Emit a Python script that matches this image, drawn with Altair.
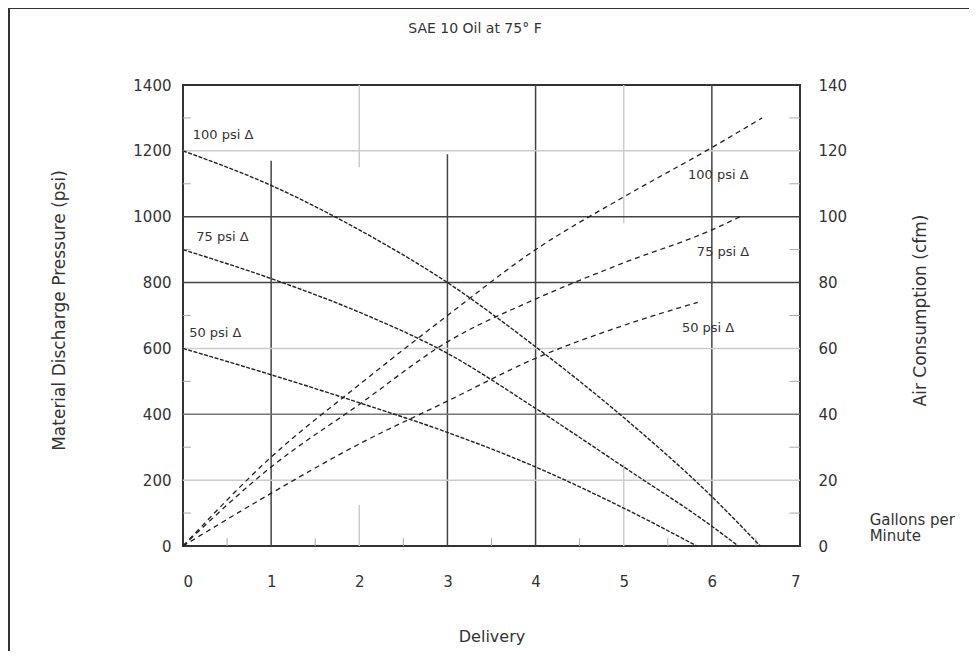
import altair as alt
import pandas as pd

FONT = "DejaVu Sans"

# ---- data -------------------------------------------------------------
# Material discharge pressure curves (left axis, psi) vs delivery (gpm)
p100_x = [0, 1, 2, 3, 4, 5, 6, 6.55]
p100_y = [1200, 1095, 960, 800, 605, 390, 150, 0]
p75_x = [0, 1, 2, 3, 4, 5, 6, 6.3]
p75_y = [900, 812, 710, 585, 418, 240, 60, 0]
p50_x = [0, 1, 2, 3, 4, 5, 5.83]
p50_y = [600, 520, 435, 345, 240, 115, 0]

# Air consumption curves (right axis, cfm) vs delivery (gpm)
a100_x = [0, 1, 2, 3, 4, 5, 6, 6.57]
a100_y = [0, 27, 49, 70, 90, 106, 121, 130]
a75_x = [0, 1, 2, 3, 4, 5, 6, 6.32]
a75_y = [0, 24, 43, 62, 75, 86, 96, 100]
a50_x = [0, 1, 2, 3, 4, 5, 5.84]
a50_y = [0, 16, 31, 44, 57, 67, 74]

x_ticks = [0, 1, 2, 3, 4, 5, 6, 7]
left_ticks = [0, 200, 400, 600, 800, 1000, 1200, 1400]
right_ticks = [0, 20, 40, 60, 80, 100, 120, 140]

# curve labels (text, x in gpm, y in psi units)
label_text = ["100 psi Δ", "75 psi Δ", "50 psi Δ", "100 psi Δ", "75 psi Δ", "50 psi Δ"]
label_x = [0.11, 0.15, 0.07, 5.73, 5.83, 5.66]
label_y = [1248, 938, 647, 1127, 893, 662]

# grid segments
vgrid_x = [1, 2, 2, 3, 4, 5, 5, 6]
vgrid_y1 = [0, 1150, 0, 0, 0, 980, 0, 0]
vgrid_y2 = [1170, 1400, 125, 1190, 1400, 1400, 250, 1400]
vgrid_tone = ["dark", "light", "light", "dark", "dark", "light", "light", "dark"]
hgrid_y = [200, 400, 600, 800, 1000, 1200]
hgrid_tone = ["light", "mid", "light", "dark", "dark", "light"]

# minor inward ticks
minor_left = [100, 300, 500, 700, 900, 1100, 1300]
minor_right = [100, 300, 500, 700, 900, 1100, 1300]  # cfm 10..130 in psi units
minor_bottom = [0.5, 1.5, 2.5, 3.5, 4.5, 5.5, 6.5]

title_text = "SAE 10 Oil at 75° F"
unit_text = ["Gallons per", "Minute"]

# ---- frames ---------------------------------------------------------
def curves(xs_list, ys_list, names):
    rows = []
    for xs, ys, n in zip(xs_list, ys_list, names):
        for x, y in zip(xs, ys):
            rows.append({"gpm": x, "val": y, "curve": n})
    return pd.DataFrame(rows)

press_df = curves([p100_x, p75_x, p50_x], [p100_y, p75_y, p50_y], ["100", "75", "50"])
air_df = curves([a100_x, a75_x, a50_x], [a100_y, a75_y, a50_y], ["100", "75", "50"])
labels_df = pd.DataFrame({"t": label_text, "gpm": label_x, "val": label_y})
vgrid_df = pd.DataFrame({"gpm": vgrid_x, "val": vgrid_y1, "val2": vgrid_y2, "tone": vgrid_tone})
hgrid_df = pd.DataFrame({"val": hgrid_y, "gpm": [0] * len(hgrid_y), "gpm2": [7] * len(hgrid_y),
                         "tone": hgrid_tone})
mleft_df = pd.DataFrame({"val": minor_left, "gpm": [0] * 7, "gpm2": [0.09] * 7})
mright_df = pd.DataFrame({"val": minor_right, "gpm": [6.88] * 7, "gpm2": [7] * 7})
mbot_df = pd.DataFrame({"gpm": minor_bottom, "val": [0] * 7, "val2": [24] * 7})
gpm_df = pd.DataFrame({"t": unit_text, "gpm": [7.79, 7.79], "val": [80, 29]})
title_df = pd.DataFrame({"t": [title_text]})

xscale = alt.Scale(domain=[0, 7], nice=False)
yscale = alt.Scale(domain=[0, 1400], nice=False)
tone_scale = alt.Scale(domain=["dark", "mid", "light"], range=["#444444", "#777777", "#cccccc"])

x_axis = alt.Axis(values=x_ticks, tickSize=0, domain=False, grid=False, labelPadding=28,
                  labelFontSize=15, labelFont=FONT, labelColor="#333", title="Delivery",
                  titleFont=FONT, titleFontSize=16, titleFontWeight="normal", titleColor="#333",
                  titleBaseline="middle", titleY=90)
left_axis = alt.Axis(values=left_ticks, format="d", tickSize=0, domain=False, grid=False,
                     labelPadding=12, labelFontSize=15, labelFont=FONT, labelColor="#333",
                     title="Material Discharge Pressure (psi)", titleFont=FONT, titleFontSize=17,
                     titleFontWeight="normal", titleColor="#333", titleX=-115, titleY=225)
right_axis = alt.Axis(values=right_ticks, orient="right", tickSize=0, domain=False, grid=False,
                      labelPadding=18, labelFontSize=15, labelFont=FONT, labelColor="#333",
                      title="Air Consumption (cfm)", titleFont=FONT, titleFontSize=17,
                      titleFontWeight="normal", titleColor="#333", titleAngle=270,
                      titleX=129, titleY=225)

X = alt.X("gpm:Q", scale=xscale, axis=x_axis)
Y = alt.Y("val:Q", scale=yscale, axis=left_axis)

vgrid = alt.Chart(vgrid_df).mark_rule(strokeWidth=1.5).encode(
    x=X, y=Y, y2="val2:Q",
    color=alt.Color("tone:N", scale=tone_scale, legend=None),
)
hgrid = alt.Chart(hgrid_df).mark_rule(strokeWidth=1.5).encode(
    y=Y, x=X, x2="gpm2:Q",
    color=alt.Color("tone:N", scale=tone_scale, legend=None),
)
mleft = alt.Chart(mleft_df).mark_rule(color="#aaaaaa", strokeWidth=1).encode(y=Y, x=X, x2="gpm2:Q")
mright = alt.Chart(mright_df).mark_rule(color="#aaaaaa", strokeWidth=1).encode(y=Y, x=X, x2="gpm2:Q")
mbot = alt.Chart(mbot_df).mark_rule(color="#aaaaaa", strokeWidth=1).encode(x=X, y=Y, y2="val2:Q")

press = alt.Chart(press_df).mark_line(color="#222222", strokeWidth=1.4, strokeDash=[4, 1.5],
                                      interpolate="monotone").encode(
    x=X, y=Y, detail="curve:N",
)
labels = alt.Chart(labels_df).mark_text(align="left", baseline="middle", font=FONT, fontSize=13,
                                        color="#333").encode(x=X, y=Y, text="t:N")
gpm_text = alt.Chart(gpm_df).mark_text(align="left", baseline="middle", font=FONT, fontSize=15,
                                       color="#333").encode(x=X, y=Y, text="t:N")
title_mark = alt.Chart(title_df).mark_text(align="center", baseline="middle", font=FONT,
                                           fontSize=14, color="#333").encode(
    x=alt.value(292), y=alt.value(-56), text="t:N")
border_left = alt.Chart(title_df).mark_rule(color="#333", strokeWidth=2).encode(
    x=alt.value(-174), y=alt.value(-77), y2=alt.value(600))
border_top = alt.Chart(title_df).mark_rule(color="#333", strokeWidth=2).encode(
    x=alt.value(-174), x2=alt.value(800), y=alt.value(-77))

left_group = alt.layer(vgrid, hgrid, mleft, mright, mbot, press, labels, gpm_text,
                       title_mark, border_left, border_top)

air = alt.Chart(air_df).mark_line(color="#222222", strokeWidth=1.3, strokeDash=[5, 4],
                                  interpolate="monotone").encode(
    x=X,
    y=alt.Y("val:Q", scale=alt.Scale(domain=[0, 140], nice=False), axis=right_axis),
    detail="curve:N",
)

chart = alt.layer(left_group, air).resolve_scale(y="independent").properties(
    width=617,
    height=461,
    autosize=alt.AutoSizeParams(type="none"),
    padding={"left": 175, "top": 77, "right": 169, "bottom": 105},
).configure(background="white", view=alt.ViewConfig(stroke="#333", strokeWidth=2))

chart.save("out.html", embed_options={"renderer": "svg", "actions": False})
